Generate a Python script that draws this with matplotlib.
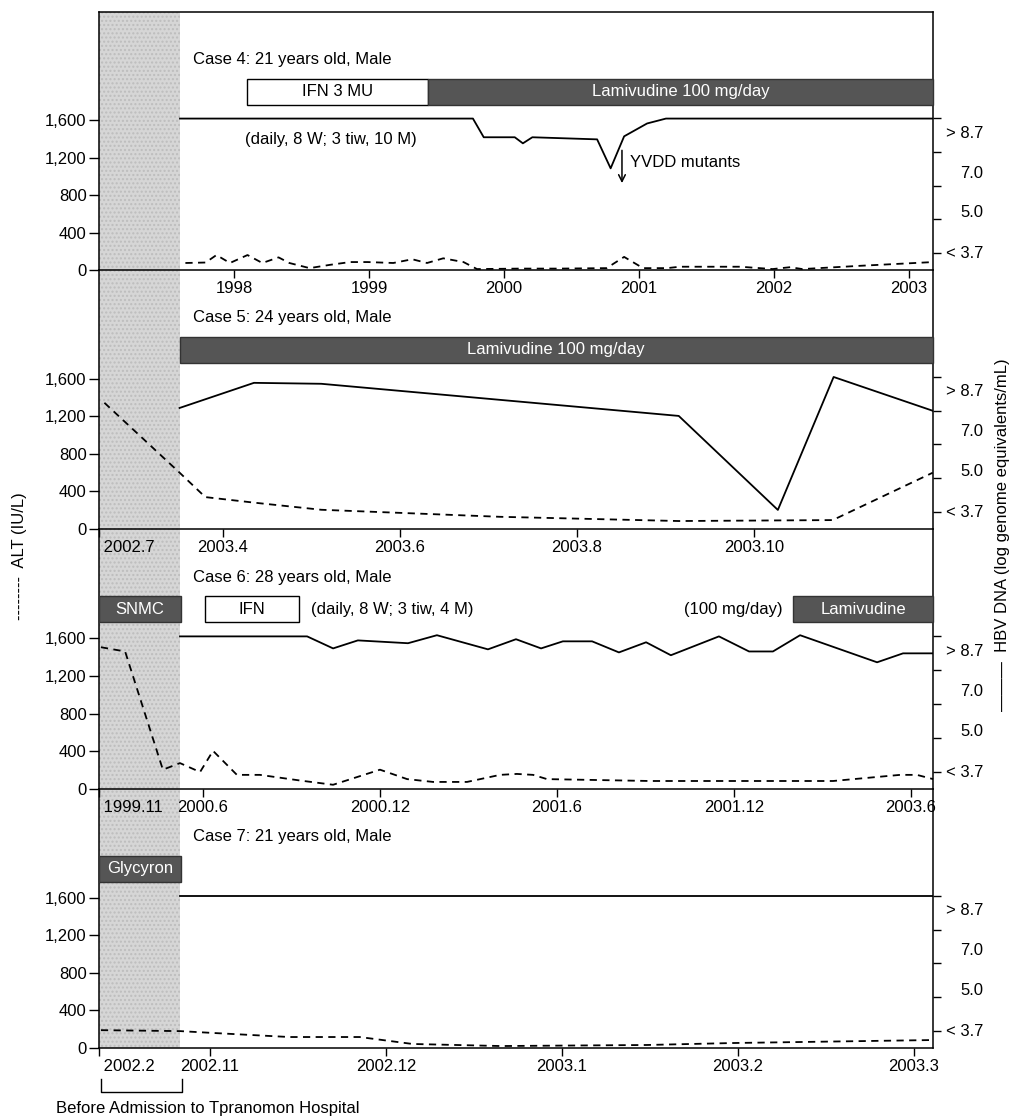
import numpy as np
import matplotlib.pyplot as plt
from matplotlib.patches import Rectangle
from matplotlib.lines import Line2D
from matplotlib.transforms import blended_transform_factory

plt.rcParams['font.family'] = ['Liberation Sans', 'DejaVu Sans']
plt.rcParams['font.size'] = 12

# ---- data ----
# Case 4, x in decimal years
c4_alt_x = [1997.64, 1997.79, 1997.87, 1997.97, 1998.10, 1998.21, 1998.33, 1998.41, 1998.56, 1998.71,
            1998.86, 1998.99, 1999.18, 1999.32, 1999.43, 1999.55, 1999.70, 1999.80, 2000.12, 2000.41,
            2000.76, 2000.89, 2001.03, 2001.21, 2001.30, 2001.75, 2001.99, 2002.12, 2002.21, 2002.64,
            2003.18]
c4_alt = [75, 80, 160, 75, 160, 75, 135, 75, 20, 55,
          85, 85, 75, 115, 75, 125, 85, 10, 15, 15,
          20, 140, 20, 20, 35, 35, 10, 30, 10, 45,
          85]
c4_hbv_x = [1997.60, 1999.77, 1999.85, 2000.08, 2000.14, 2000.21, 2000.69, 2000.79, 2000.89, 2001.06,
            2001.20, 2003.18]
c4_hbv = [9.34, 9.34, 8.54, 8.54, 8.28, 8.54, 8.45, 7.21, 8.58, 9.13, 9.34, 9.34]

# Case 5, x in months of 2003 (values left of 3.51 are the compressed pre-admission part)
c5_alt_x = [2.66, 3.51, 3.80, 4.36, 5.11, 7.13, 9.15, 10.89, 12.02]
c5_alt = [1345, 600, 340, 280, 205, 130, 85, 95, 600]
c5_hbv_x = [3.51, 4.35, 5.11, 9.15, 10.27, 10.90, 12.02]
c5_hbv = [8.02, 9.09, 9.05, 7.68, 3.77, 9.34, 7.90]

# Case 6, x in months since Jan 2000
c6_alt_x = [2.54, 3.36, 4.64, 5.22, 5.90, 6.34, 7.15, 7.93, 9.29, 10.41,
            12.00, 12.92, 13.80, 14.95, 16.07, 16.64, 17.19, 17.66, 21.15, 24.54,
            27.36, 29.63, 30.20, 30.75]
c6_alt = [1505, 1460, 205, 275, 180, 405, 150, 150, 90, 45,
          205, 105, 75, 75, 150, 160, 150, 105, 85, 85,
          85, 150, 150, 105]
c6_hbv_x = [5.22, 9.53, 10.41, 11.25, 12.95, 13.93, 15.66, 16.61, 17.46, 18.20,
            19.19, 20.10, 21.02, 21.86, 23.49, 24.51, 25.32, 26.24, 28.85, 29.73,
            30.75]
c6_hbv = [9.34, 9.34, 8.83, 9.17, 9.05, 9.39, 8.79, 9.22, 8.83, 9.13,
          9.13, 8.66, 9.09, 8.54, 9.34, 8.70, 8.70, 9.39, 8.24, 8.62,
          8.62]

# Case 7, x in months since Jan 2002
c7_alt_x = [10.38, 10.83, 11.02, 11.45, 11.85, 12.15, 12.65, 13.48, 13.97, 15.11]
c7_alt = [190, 180, 160, 117, 117, 43, 21, 32, 53, 85]
c7_hbv_x = [10.83, 15.11]
c7_hbv = [9.34, 9.34]

case_titles = ['Case 4: 21 years old, Male', 'Case 5: 24 years old, Male',
               'Case 6: 28 years old, Male', 'Case 7: 21 years old, Male']
pre_labels = [None, '2002.7', '1999.11', '2002.2']
xtick_vals = [[1998, 1999, 2000, 2001, 2002, 2003], [4, 6, 8, 10], [6, 12, 18, 24, 30], [11, 12, 13, 14, 15]]
xtick_labels = [['1998', '1999', '2000', '2001', '2002', '2003'],
                ['2003.4', '2003.6', '2003.8', '2003.10'],
                ['2000.6', '2000.12', '2001.6', '2001.12', '2003.6'],
                ['2002.11', '2002.12', '2003.1', '2003.2', '2003.3']]

# treatments: (label, start, end, dark); start None = from left edge
c4_treat = [('IFN 3 MU', 1998.10, 1999.44, False), ('Lamivudine 100 mg/day', 1999.44, None, True)]
c5_treat = [('Lamivudine 100 mg/day', 3.51, None, True)]
c6_treat = [('SNMC', None, 5.25, True), ('IFN', 6.07, 9.25, False), ('Lamivudine', 26.0, None, True)]
c7_treat = [('Glycyron', None, 10.835, True)]

alt_ticks = [0, 400, 800, 1200, 1600]
alt_tick_labels = ['0', '400', '800', '1,200', '1,600']
hbv_levels = [3.7, 5.0, 7.0, 8.7]
hbv_labels = ['< 3.7', '5.0', '7.0', '> 8.7']

# ---- layout ----
W, H = 1016, 1116
L, R, GR = 99, 933, 180
tops = [12, 270, 529, 789]
bases = [270, 529, 789, 1048]
xlims = [(1997.0, 2003.178), (2.599, 12.023), (2.475, 30.746), (10.369, 15.108)]
YMAX = 2760
HBV_POS = [180, 610, 1035, 1460]      # where the right labels sit
RIGHT_TICKS = [181, 544, 901, 1259, 1621]
BAR_Y0, BAR_H = 1770, 275
CASE_Y = 2250


def hbv_to_pos(v):
    v = np.asarray(v, float)
    lv = np.array(hbv_levels)
    ps = np.array(HBV_POS, float)
    out = np.interp(v, lv, ps)
    hi = v > lv[-1]
    out[hi] = ps[-1] + (v[hi] - lv[-1]) * (ps[-1] - ps[-2]) / (lv[-1] - lv[-2])
    lo = v < lv[0]
    out[lo] = ps[0] + (v[lo] - lv[0]) * (ps[1] - ps[0]) / (lv[1] - lv[0])
    return out


fig = plt.figure(figsize=(W / 100, H / 100), dpi=100)

# stippled "before admission" band behind all panels
fig.patches.append(Rectangle((L / W, 1 - bases[-1] / H), (GR - L) / W, (bases[-1] - tops[0]) / H,
                             transform=fig.transFigure, facecolor='#d6d6d6', edgecolor='#bdbdbd',
                             hatch='....', lw=0, zorder=-5))

panels = [
    (c4_alt_x, c4_alt, c4_hbv_x, c4_hbv, c4_treat),
    (c5_alt_x, c5_alt, c5_hbv_x, c5_hbv, c5_treat),
    (c6_alt_x, c6_alt, c6_hbv_x, c6_hbv, c6_treat),
    (c7_alt_x, c7_alt, c7_hbv_x, c7_hbv, c7_treat),
]

axes = []
for i, (ax_x, alt, hx, hbv, treat) in enumerate(panels):
    ax = fig.add_axes([L / W, 1 - bases[i] / H, (R - L) / W, (bases[i] - tops[i]) / H])
    ax.patch.set_visible(False)
    ax.set_xlim(*xlims[i])
    ax.set_ylim(0, YMAX)
    for s in ax.spines.values():
        s.set_linewidth(1.1)
    ax.spines['top'].set_visible(i == 0)

    ax.set_yticks(alt_ticks)
    ax.set_yticklabels(alt_tick_labels)
    ax.tick_params(axis='y', direction='out', length=7, width=1, pad=2)

    ticks = list(xtick_vals[i])
    labels = list(xtick_labels[i])
    if pre_labels[i] is not None:
        ticks = [xlims[i][0]] + ticks
        labels = [' ' + pre_labels[i]] + labels
    ax.set_xticks(ticks)
    ax.set_xticklabels(labels)
    ax.tick_params(axis='x', direction='out', length=6, width=1, pad=2)
    if pre_labels[i] is not None:
        ax.get_xticklabels()[0].set_ha('left')

    # ALT (dashed)
    ax.plot(ax_x, alt, color='k', ls=(0, (4, 3)), lw=1.3, clip_on=False)

    # HBV DNA (solid) on right scale
    ax2 = ax.twinx()
    ax2.set_ylim(0, YMAX)
    for s in ax2.spines.values():
        s.set_visible(False)
    ax2.set_yticks(RIGHT_TICKS)
    ax2.set_yticklabels([])
    ax2.tick_params(axis='y', direction='out', length=6, width=1)
    for lev, lab in zip(hbv_levels, hbv_labels):
        ax2.annotate(lab, xy=(1, hbv_to_pos([lev])[0]), xycoords=('axes fraction', 'data'),
                     xytext=(36, 0), textcoords='offset points', ha='right', va='center')
    ax2.plot(hx, hbv_to_pos(hbv), color='k', lw=1.3)

    # treatment bars
    for lab, x0, x1, dark in treat:
        if x0 is None:
            x0 = xlims[i][0]
        if x1 is None:
            x1 = xlims[i][1]
        ax2.add_patch(Rectangle((x0, BAR_Y0), x1 - x0, BAR_H,
                                facecolor='#555555' if dark else 'white',
                                edgecolor='#333333' if dark else 'k', lw=1, clip_on=False))
        ax2.text((x0 + x1) / 2, BAR_Y0 + BAR_H / 2, lab, ha='center', va='center',
                 color='white' if dark else 'k')

    ax2.text((193 - L) / (R - L), CASE_Y, case_titles[i], ha='left', va='center',
             transform=blended_transform_factory(ax2.transAxes, ax2.transData))
    axes.append((ax, ax2))

# panel notes
ax4, ax4b = axes[0]
ax4b.text(1998.08, 1400, '(daily, 8 W; 3 tiw, 10 M)', ha='left', va='center')
ax4b.annotate('', xy=(2000.874, 900), xytext=(2000.874, 1310),
              arrowprops=dict(arrowstyle='->', color='k', lw=1.1))
ax4b.text(2000.93, 1150, 'YVDD mutants', ha='left', va='center')

ax6, ax6b = axes[2]
ax6b.text(9.66, BAR_Y0 + BAR_H / 2, '(daily, 8 W; 3 tiw, 4 M)', ha='left', va='center')
ax6b.text(25.66, BAR_Y0 + BAR_H / 2, '(100 mg/day)', ha='right', va='center')

# axis titles
fig.text(20 / W, 1 - 556 / H, '--------  ALT (IU/L)', rotation=90, ha='center', va='center')
fig.text(1003 / W, 1 - 535 / H, '\u2014\u2014\u2014  HBV DNA (log genome equivalents/mL)',
         rotation=90, ha='center', va='center')

# bracket under the pre-admission band
fig.add_artist(Line2D([101 / W, 101 / W, 182 / W, 182 / W],
                      [1 - 1079 / H, 1 - 1092 / H, 1 - 1092 / H, 1 - 1079 / H],
                      transform=fig.transFigure, color='k', lw=1))
fig.text(208 / W, 1 - 1108 / H, 'Before Admission to Tpranomon Hospital', ha='center', va='center')

fig.savefig('out.png', dpi=100)
